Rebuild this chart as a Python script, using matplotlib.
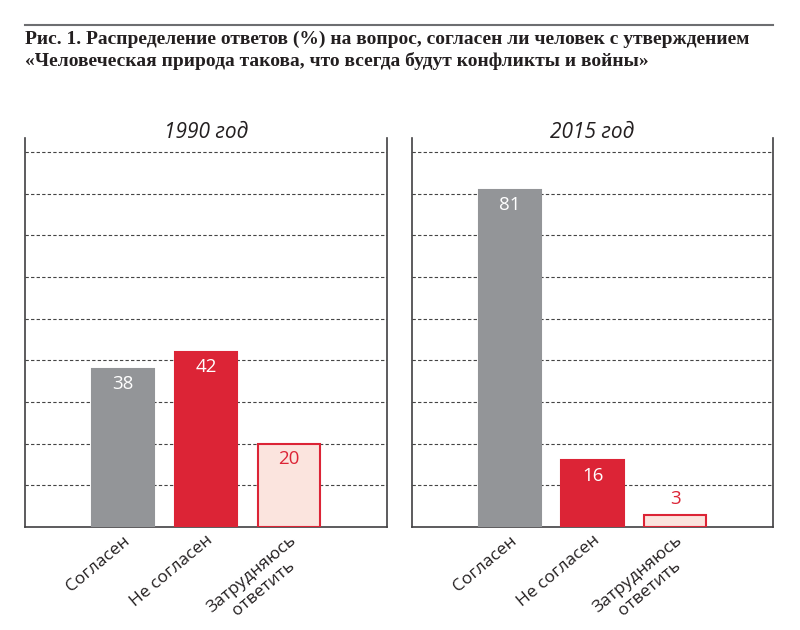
import matplotlib.pyplot as plt

# данные
categories = ['Согласен', 'Не согласен', 'Затрудняюсь\nответить']
years = ['1990 год', '2015 год']
values_1990 = [38, 42, 20]
values_2015 = [81, 16, 3]

fill_colors = ['#939598', '#dc2436', '#fbe4de']
edge_colors = ['#939598', '#dc2436', '#dc2436']
text_colors = ['white', 'white', '#dc2436']

plt.rcParams['font.family'] = ['Open Sans', 'DejaVu Sans']

fig = plt.figure(figsize=(8, 6.3), dpi=100)

# заголовок
fig.text(25 / 800, 1 - 44 / 630,
         'Рис. 1. Распределение ответов (%) на вопрос, согласен ли человек с утверждением',
         fontsize=14, family='Liberation Serif', weight='bold', color='#231f20')
fig.text(25 / 800, 1 - 66 / 630,
         '«Человеческая природа такова, что всегда будут конфликты и войны»',
         fontsize=14, family='Liberation Serif', weight='bold', color='#231f20')
fig.add_artist(plt.Line2D([25 / 800, 773 / 800], [1 - 25 / 630, 1 - 25 / 630],
                          color='#6d6e71', lw=1.5))

ax1 = fig.add_axes([25 / 800, 1 - 527 / 630, 362 / 800, 389 / 630])
ax2 = fig.add_axes([412 / 800, 1 - 527 / 630, 361 / 800, 389 / 630])

for ax, year, vals in [(ax1, years[0], values_1990), (ax2, years[1], values_2015)]:
    x = range(len(vals))
    ax.bar(x, vals, width=0.75, color=fill_colors, edgecolor=edge_colors,
           linewidth=1.5, zorder=3)
    ax.set_xlim(-1.18, 3.18)
    ax.set_ylim(0, 93.4)
    ax.set_yticks(range(10, 100, 10))
    ax.yaxis.grid(True, linestyle=(0, (3, 2)), color='#444444', lw=0.8)
    ax.tick_params(axis='y', left=False, labelleft=False)
    ax.tick_params(axis='x', length=0, pad=4)
    ax.set_xticks(list(x))
    ax.set_xticklabels(categories, rotation=40, ha='right', rotation_mode='anchor',
                       fontsize=12.5, color='#231f20', multialignment='center')
    ax.spines['top'].set_visible(False)
    for s in ['left', 'right', 'bottom']:
        ax.spines[s].set_color('#414042')
        ax.spines[s].set_linewidth(1.2)
    # подпись года
    ax.text(0.5, 1.0, year, transform=ax.transAxes, ha='center', va='baseline',
            fontsize=15, style='italic', color='#231f20')
    for i, v in enumerate(vals):
        if v < 8:
            ax.text(i, v + 1.5, str(v), ha='center', va='bottom',
                    fontsize=13.5, color=text_colors[i], zorder=4)
        else:
            ax.text(i, v - 1.5, str(v), ha='center', va='top',
                    fontsize=13.5, color=text_colors[i], zorder=4)

fig.savefig('out.png', dpi=100)
